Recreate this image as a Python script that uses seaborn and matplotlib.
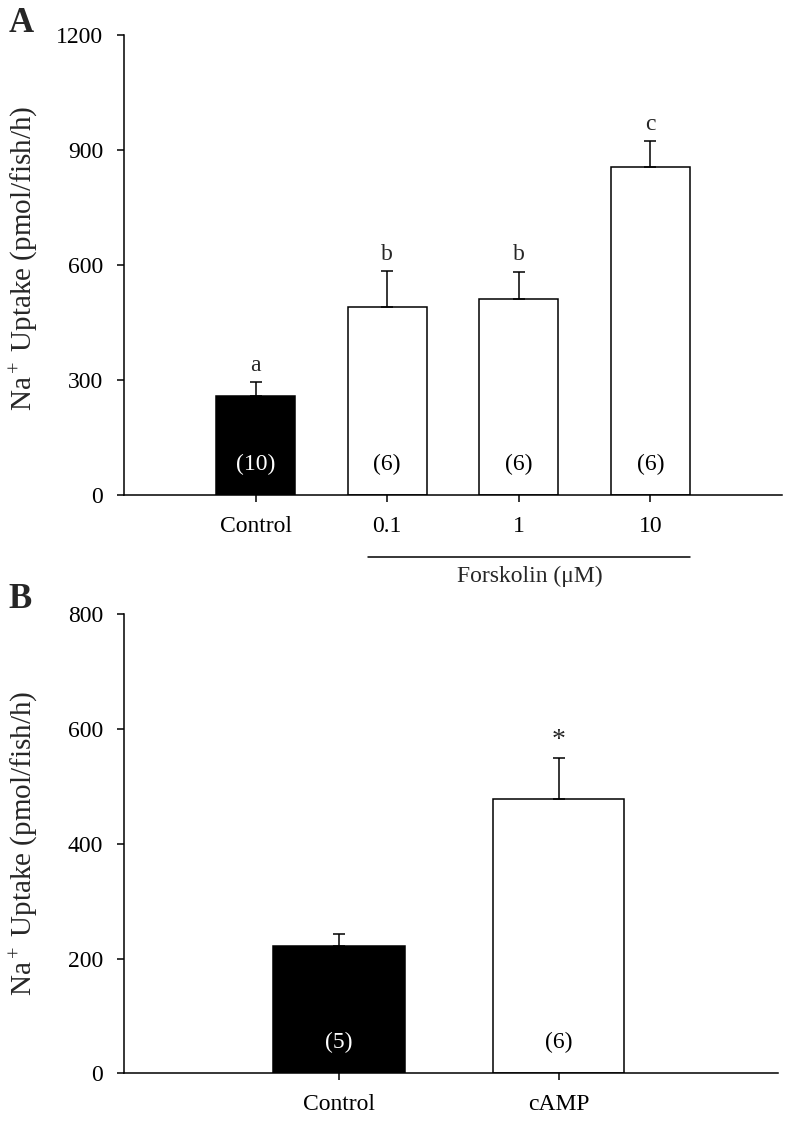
import matplotlib
matplotlib.use('Agg')
import matplotlib.pyplot as plt
import matplotlib.transforms as mtransforms
import seaborn as sns

sns.set_style('ticks')
plt.rcParams['font.family'] = ['Liberation Serif', 'DejaVu Serif']
plt.rcParams['mathtext.fontset'] = 'custom'
plt.rcParams['mathtext.rm'] = 'Liberation Serif'
plt.rcParams['mathtext.it'] = 'Liberation Serif:italic'

# Panel A - forskolin dose response
a_groups = ['Control', '0.1', '1', '10']
a_means = [259, 491, 511, 855]
a_sem = [35, 94, 72, 68]
a_n = [10, 6, 6, 6]
a_letters = ['a', 'b', 'b', 'c']
a_colors = ['black', 'white', 'white', 'white']

# Panel B - cAMP
b_groups = ['Control', 'cAMP']
b_means = [222, 478]
b_sem = [21, 72]
b_n = [5, 6]
b_marks = ['', '*']
b_colors = ['black', 'white']

YLABEL = 'Na$^+$ Uptake (pmol/fish/h)'
LW = 1.1
FS = 17


def draw_panel(ax, groups, means, sem, ns, marks, colors, ymax, ystep, xlim):
    sns.barplot(x=groups, y=means, hue=groups, palette=colors, legend=False,
                order=groups, hue_order=groups, edgecolor='black',
                linewidth=LW, width=0.6, errorbar=None, ax=ax)
    pos = list(range(len(groups)))
    ax.errorbar(pos, means, yerr=[[0] * len(sem), sem], fmt='none',
                ecolor='black', elinewidth=LW, capsize=4, capthick=LW, zorder=1)
    for i, (m, s, n, mk, c) in enumerate(zip(means, sem, ns, marks, colors)):
        ax.annotate(f'({n})', xy=(i, 0), xytext=(0, 22), textcoords='offset points',
                    ha='center', va='center', fontsize=FS,
                    color='white' if c == 'black' else 'black')
        if mk:
            ax.annotate(mk, xy=(i, m + s), xytext=(0, 8), textcoords='offset points',
                        ha='center', va='baseline',
                        fontsize=FS + 3 if mk == '*' else FS)

    ax.set_xlim(*xlim)
    ax.set_ylim(0, ymax)
    ax.set_yticks(range(0, ymax + 1, ystep))
    sns.despine(ax=ax)
    for sp in ['left', 'bottom']:
        ax.spines[sp].set_linewidth(LW)
        ax.spines[sp].set_color('black')
    ax.tick_params(axis='both', direction='out', length=5, width=LW,
                   color='black', labelsize=FS, labelcolor='black')
    ax.tick_params(axis='y', pad=10)
    ax.tick_params(axis='x', pad=10)
    ax.set_xlabel('')
    ax.set_ylabel(YLABEL, fontsize=21)
    ax.yaxis.set_label_coords(-0.128, 0.5)


fig = plt.figure(figsize=(7.86, 11.23), dpi=100)
fig.patch.set_facecolor('white')

ax1 = fig.add_axes([0.1578, 0.5592, 0.8371, 0.4096])
draw_panel(ax1, a_groups, a_means, a_sem, a_n, a_letters, a_colors,
           1200, 300, (-1.0, 4.0))
ax1.yaxis.set_label_coords(-0.128, 0.515)

# group line under the forskolin doses
trans = mtransforms.blended_transform_factory(ax1.transData, ax1.transAxes)
ax1.plot([0.855, 3.3], [-0.134, -0.134], color='black', lw=LW,
         transform=trans, clip_on=False)
ax1.text(2.08, -0.178, 'Forskolin (\u03bcM)', transform=trans, ha='center',
         va='center', fontsize=FS)

ax2 = fig.add_axes([0.1578, 0.0443, 0.8321, 0.4087])
draw_panel(ax2, b_groups, b_means, b_sem, b_n, b_marks, b_colors,
           800, 200, (-0.98, 2.0))

fig.text(0.011, 0.979, 'A', fontsize=25, fontweight='bold', va='center', ha='left')
fig.text(0.011, 0.466, 'B', fontsize=25, fontweight='bold', va='center', ha='left')

fig.savefig('out.png', dpi=100, facecolor='white')
